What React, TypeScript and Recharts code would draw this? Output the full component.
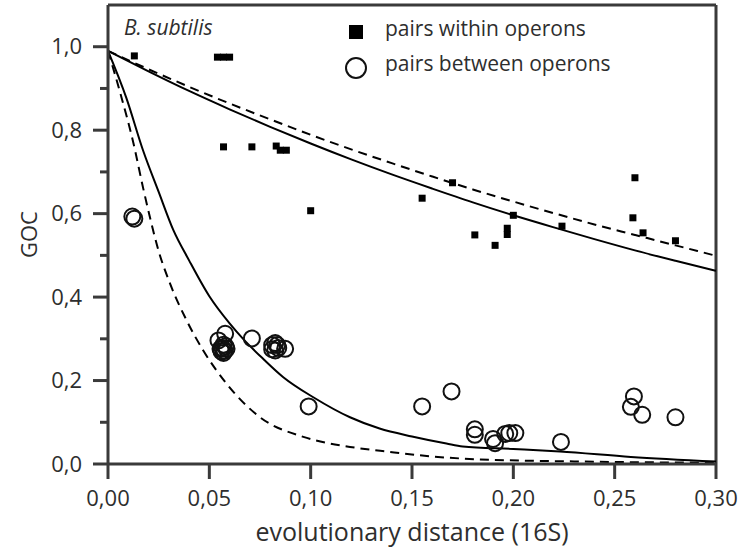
import {
  ComposedChart,
  Line,
  Scatter,
  XAxis,
  YAxis,
  ReferenceLine,
} from 'recharts';

// GOC vs 16S distance, B. subtilis
const withinOperons: [number, number][] = [
  [0.013, 0.978], [0.054, 0.975], [0.057, 0.975], [0.060, 0.975],
  [0.057, 0.760], [0.071, 0.760], [0.083, 0.762], [0.085, 0.752], [0.088, 0.752],
  [0.100, 0.607], [0.155, 0.637], [0.170, 0.674], [0.181, 0.549], [0.191, 0.524],
  [0.197, 0.565], [0.197, 0.550], [0.200, 0.596], [0.224, 0.570], [0.260, 0.686],
  [0.259, 0.590], [0.264, 0.554], [0.280, 0.535],
];

const betweenOperons: [number, number][] = [
  [0.012, 0.593], [0.013, 0.588],
  [0.0545, 0.296], [0.0578, 0.312], [0.0555, 0.276], [0.0585, 0.276], [0.057, 0.266],
  [0.057, 0.286], [0.056, 0.270], [0.058, 0.282], [0.0565, 0.278], [0.0575, 0.271],
  [0.071, 0.301],
  [0.081, 0.285], [0.0835, 0.285], [0.0825, 0.272], [0.084, 0.278], [0.081, 0.275],
  [0.0825, 0.290], [0.0874, 0.276],
  [0.099, 0.138], [0.155, 0.138], [0.1695, 0.174], [0.181, 0.083], [0.181, 0.070],
  [0.190, 0.060], [0.191, 0.050], [0.196, 0.072], [0.198, 0.074], [0.201, 0.074],
  [0.2235, 0.053], [0.2595, 0.162], [0.258, 0.137], [0.2636, 0.118], [0.280, 0.112],
];

// fitted curves (read at intervals)
const withinFit: [number, number][] = [
  [0, 0.99], [0.02, 0.941], [0.04, 0.894], [0.06, 0.85], [0.08, 0.808], [0.1, 0.768],
  [0.12, 0.73], [0.14, 0.694], [0.16, 0.66], [0.18, 0.627], [0.2, 0.596], [0.22, 0.567],
  [0.24, 0.539], [0.26, 0.512], [0.28, 0.487], [0.3, 0.463],
];

const withinModel: [number, number][] = [
  [0, 0.99], [0.02, 0.946], [0.04, 0.904], [0.06, 0.864], [0.08, 0.826], [0.1, 0.789],
  [0.12, 0.754], [0.14, 0.721], [0.16, 0.689], [0.18, 0.658], [0.2, 0.629], [0.22, 0.601],
  [0.24, 0.574], [0.26, 0.549], [0.28, 0.524], [0.3, 0.499],
];

const betweenFit: [number, number][] = [
  [0, 0.99], [0.009, 0.878], [0.0174, 0.75], [0.025, 0.652], [0.0322, 0.561], [0.04, 0.488],
  [0.05, 0.402], [0.06, 0.337], [0.067, 0.298], [0.077, 0.25], [0.0865, 0.208], [0.1013, 0.16],
  [0.1194, 0.112], [0.134, 0.085], [0.15, 0.066], [0.167, 0.049], [0.175, 0.042], [0.2, 0.036],
  [0.223, 0.03], [0.258, 0.017], [0.3, 0.006],
];

const betweenModel: [number, number][] = [
  [0, 0.99], [0.006, 0.89], [0.0125, 0.77], [0.0174, 0.66], [0.021, 0.585], [0.025, 0.51],
  [0.03, 0.44], [0.0388, 0.344], [0.047, 0.272], [0.0586, 0.192], [0.075, 0.112],
  [0.0964, 0.065], [0.1194, 0.041], [0.139, 0.029], [0.16, 0.018], [0.1836, 0.011],
  [0.233, 0.006], [0.3, 0.003],
];

const xTicks = [0, 0.05, 0.1, 0.15, 0.2, 0.25, 0.3];
const yTicks = [0, 0.1, 0.2, 0.3, 0.4, 0.5, 0.6, 0.7, 0.8, 0.9, 1.0];

const toPts = (arr: [number, number][]) => arr.map(([x, y]) => ({ x, y }));

const AXIS = '#3a3a3a';
const INK = '#2e2e2e';
const FONT = '"Open Sans", "DejaVu Sans", sans-serif';

function YTick({ x, y, payload }: any) {
  const v = payload.value as number;
  const major = Math.round(v * 10) % 2 === 0;
  return (
    <g>
      <line x1={x - (major ? 15 : 8)} x2={x} y1={y} y2={y} stroke={AXIS} strokeWidth={3} />
      {major && (
        <text x={x - 26} y={y} dy="0.35em" textAnchor="end" fontSize={22} fill={INK} fontFamily={FONT}>
          {v.toFixed(1).replace('.', ',')}
        </text>
      )}
    </g>
  );
}

function XTick({ x, y, payload }: any) {
  const v = payload.value as number;
  return (
    <g>
      <line x1={x} x2={x} y1={y} y2={y + 15} stroke={AXIS} strokeWidth={3} />
      <text x={x} y={y + 34} dy="0.35em" textAnchor="middle" fontSize={22} fill={INK} fontFamily={FONT}>
        {v.toFixed(2).replace('.', ',')}
      </text>
    </g>
  );
}

const squareShape = (p: any) => <rect x={p.cx - 3.5} y={p.cy - 3.5} width={7} height={7} fill="#000" />;
const circleShape = (p: any) => (
  <circle cx={p.cx} cy={p.cy} r={8} fill="none" stroke="#111" strokeWidth={2} />
);

export default function App() {
  return (
    <div style={{ position: 'absolute', left: 0, top: 0, width: 744, height: 551, background: '#fff', fontFamily: FONT }}>
      <ComposedChart width={744} height={551} margin={{ top: 5, right: 28, bottom: 27, left: 0 }}>
        <XAxis
          type="number"
          dataKey="x"
          domain={[0, 0.3]}
          ticks={xTicks}
          allowDataOverflow
          height={60}
          tickSize={0}
          tickMargin={0}
          tick={<XTick />}
          axisLine={{ stroke: AXIS, strokeWidth: 3 }}
          label={{
            content: ({ viewBox }: any) => (
              <text
                x={viewBox.x + viewBox.width / 2}
                y={viewBox.y + 77}
                textAnchor="middle"
                fontSize={25}
                fill={INK}
                fontFamily={FONT}
              >
                evolutionary distance (16S)
              </text>
            ),
          }}
        />
        <YAxis
          type="number"
          dataKey="y"
          domain={[0, 1.1]}
          ticks={yTicks}
          allowDataOverflow
          width={108}
          tickSize={0}
          tickMargin={0}
          tick={<YTick />}
          axisLine={{ stroke: AXIS, strokeWidth: 3 }}
          label={{
            content: ({ viewBox }: any) => {
              const cx = viewBox.x + 29;
              const cy = viewBox.y + viewBox.height / 2;
              return (
                <text
                  x={cx}
                  y={cy}
                  dy="0.35em"
                  textAnchor="middle"
                  fontSize={22}
                  fill={INK}
                  fontFamily={FONT}
                  transform={`rotate(-90 ${cx} ${cy})`}
                >
                  GOC
                </text>
              );
            },
          }}
        />
        <ReferenceLine y={1.1} stroke={AXIS} strokeWidth={3} />
        <ReferenceLine x={0.3} stroke={AXIS} strokeWidth={3} />

        <Line data={toPts(withinModel)} dataKey="y" type="monotone" stroke="#000" strokeWidth={2} strokeDasharray="9 6" dot={false} isAnimationActive={false} />
        <Line data={toPts(withinFit)} dataKey="y" type="monotone" stroke="#000" strokeWidth={2} dot={false} isAnimationActive={false} />
        <Line data={toPts(betweenModel)} dataKey="y" type="monotone" stroke="#000" strokeWidth={2} strokeDasharray="9 6" dot={false} isAnimationActive={false} />
        <Line data={toPts(betweenFit)} dataKey="y" type="monotone" stroke="#000" strokeWidth={2} dot={false} isAnimationActive={false} />

        <Scatter data={toPts(withinOperons)} dataKey="y" shape={squareShape} isAnimationActive={false} />
        <Scatter data={toPts(betweenOperons)} dataKey="y" shape={circleShape} isAnimationActive={false} />
      </ComposedChart>

      <div style={{ position: 'absolute', left: 124, top: 13, fontSize: 21, lineHeight: '28px', fontStyle: 'italic', color: INK }}>
        B. subtilis
      </div>
      <div style={{ position: 'absolute', left: 349, top: 25, width: 14, height: 14, background: '#000' }} />
      <div style={{ position: 'absolute', left: 385, top: 14, fontSize: 21, lineHeight: '28px', color: INK }}>
        pairs within operons
      </div>
      <div
        style={{
          position: 'absolute',
          left: 345,
          top: 57,
          width: 18,
          height: 18,
          border: '2px solid #111',
          borderRadius: '50%',
        }}
      />
      <div style={{ position: 'absolute', left: 385, top: 49, fontSize: 21, lineHeight: '28px', color: INK }}>
        pairs between operons
      </div>
    </div>
  );
}
